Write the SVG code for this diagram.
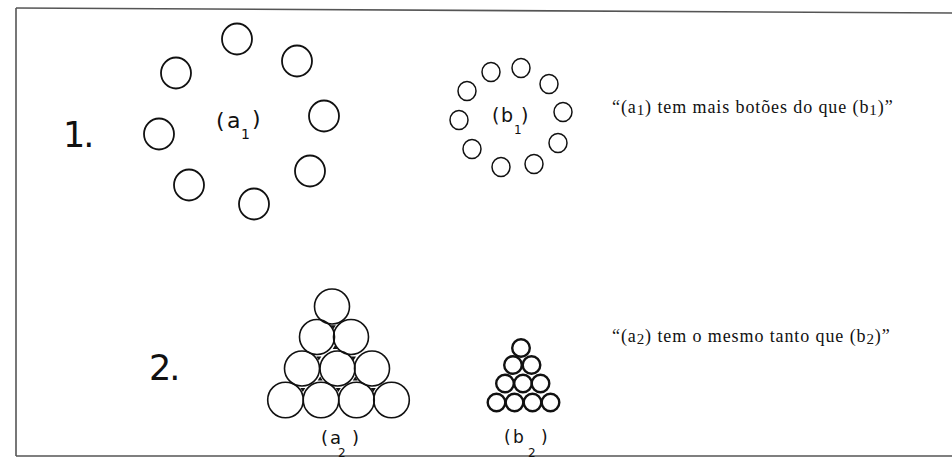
<svg xmlns="http://www.w3.org/2000/svg" width="952" height="462" viewBox="0 0 952 462">
<style>
.frame{fill:none;stroke:#555;stroke-width:1.6}
.c1{fill:none;stroke:#111;stroke-width:1.8}
.c2{fill:none;stroke:#111;stroke-width:1.5}
.c3{fill:none;stroke:#111;stroke-width:1.6}
.c4{fill:none;stroke:#111;stroke-width:2.4}
.gap{fill:#111}
.hand{font-family:"DejaVu Sans",sans-serif;fill:#111}
.num{font-family:"DejaVu Sans",sans-serif;fill:#111;font-size:35px;letter-spacing:-2px}
.quote{font-family:"Liberation Serif",serif;fill:#111;font-size:18px;letter-spacing:0.9px}
</style>
<rect width="952" height="462" fill="#fff"/>
<g id="frame">
<path class="frame" d="M16 8 L952 13"/>
<path class="frame" d="M16 8 L16 456"/>
<path class="frame" d="M16 456 L952 456"/>
</g>
<g id="label-1"><text class="num" x="63" y="147">1.</text></g>
<g id="label-2"><text class="num" x="149" y="380">2.</text></g>
<g id="a1">
<ellipse class="c1" cx="237" cy="39" rx="15" ry="15.5"/>
<ellipse class="c1" cx="297" cy="61" rx="15" ry="15.5"/>
<ellipse class="c1" cx="176" cy="73" rx="15" ry="15.5"/>
<ellipse class="c1" cx="324" cy="116" rx="15" ry="15.5"/>
<ellipse class="c1" cx="159" cy="134" rx="15" ry="15.5"/>
<ellipse class="c1" cx="310" cy="171" rx="15" ry="15.5"/>
<ellipse class="c1" cx="189" cy="185" rx="15" ry="15.5"/>
<ellipse class="c1" cx="254" cy="204" rx="15" ry="15.5"/>
<text class="hand" font-size="22"><tspan x="216" y="128">(</tspan><tspan x="227" y="128">a</tspan><tspan x="252" y="126">)</tspan><tspan x="241" y="139" font-size="14">1</tspan></text>
</g>
<g id="b1">
<ellipse class="c2" cx="491" cy="72" rx="9" ry="9.5"/>
<ellipse class="c2" cx="521" cy="68" rx="9" ry="9.5"/>
<ellipse class="c2" cx="549" cy="84" rx="9" ry="9.5"/>
<ellipse class="c2" cx="467" cy="91" rx="9" ry="9.5"/>
<ellipse class="c2" cx="563" cy="112" rx="9" ry="9.5"/>
<ellipse class="c2" cx="459" cy="120" rx="9" ry="9.5"/>
<ellipse class="c2" cx="558" cy="143" rx="9" ry="9.5"/>
<ellipse class="c2" cx="472" cy="149" rx="9" ry="9.5"/>
<ellipse class="c2" cx="534" cy="164" rx="9" ry="9.5"/>
<ellipse class="c2" cx="501" cy="167" rx="9" ry="9.5"/>
<text class="hand" font-size="19"><tspan x="492" y="122">(</tspan><tspan x="501" y="122">b</tspan><tspan x="521" y="122">)</tspan><tspan x="514" y="134" font-size="12">1</tspan></text>
</g>
<g id="t1"><text class="quote" x="612" y="113">“(a<tspan font-size="15" dy="2">1</tspan><tspan dy="-2">) tem mais botões do que (b</tspan><tspan font-size="15" dy="2">1</tspan><tspan dy="-2">)”</tspan></text></g>
<g id="a2">
<circle class="c3" cx="332" cy="306.5" r="17.5"/>
<circle class="c3" cx="317" cy="337" r="17.5"/>
<circle class="c3" cx="351" cy="337" r="17.5"/>
<circle class="c3" cx="302" cy="368.5" r="17.5"/>
<circle class="c3" cx="337.5" cy="368.5" r="17.5"/>
<circle class="c3" cx="372" cy="368.5" r="17.5"/>
<circle class="c3" cx="285.5" cy="400" r="17.8"/>
<circle class="c3" cx="321" cy="400" r="17.8"/>
<circle class="c3" cx="356.5" cy="400" r="17.8"/>
<circle class="c3" cx="391.5" cy="400" r="17.8"/>
<path class="gap" d="M330.8 325.3h5l-2.5 4z M316.3 356.5h5l-2.5 4z M351 356.5h5l-2.5 4z M300.3 388h5l-2.5 4z M335.8 388h5l-2.5 4z M370.8 388h5l-2.5 4z M335.2 345l2.5 4h-5z M320.2 376.5l2.5 4h-5z M355.3 376.5l2.5 4h-5z"/>
<text class="hand" font-size="18"><tspan x="321" y="444">(</tspan><tspan x="330" y="444">a</tspan><tspan x="352" y="444">)</tspan><tspan x="338" y="457" font-size="12">2</tspan></text>
</g>
<g id="b2">
<circle class="c4" cx="521" cy="348" r="8.8"/>
<circle class="c4" cx="513" cy="365" r="8.8"/>
<circle class="c4" cx="531.5" cy="365" r="8.8"/>
<circle class="c4" cx="505" cy="383.5" r="8.8"/>
<circle class="c4" cx="523" cy="383.5" r="8.8"/>
<circle class="c4" cx="540.5" cy="383.5" r="8.8"/>
<circle class="c4" cx="496.5" cy="402.5" r="8.8"/>
<circle class="c4" cx="514.5" cy="402.5" r="8.8"/>
<circle class="c4" cx="532.5" cy="402.5" r="8.8"/>
<circle class="c4" cx="550.5" cy="402.5" r="8.8"/>
<text class="hand" font-size="17"><tspan x="504" y="443">(</tspan><tspan x="513" y="443">b</tspan><tspan x="541" y="443">)</tspan><tspan x="528" y="457" font-size="12">2</tspan></text>
</g>
<g id="t2"><text class="quote" x="612" y="342">“(a<tspan font-size="15" dy="2">2</tspan><tspan dy="-2">) tem o mesmo tanto que (b</tspan><tspan font-size="15" dy="2">2</tspan><tspan dy="-2">)”</tspan></text></g>
</svg>
